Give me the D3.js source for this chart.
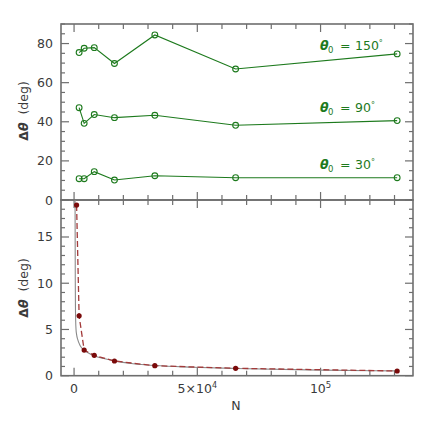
<!DOCTYPE html>
<html><head><meta charset="utf-8">
<script src="https://cdn.jsdelivr.net/npm/d3@7"></script>
<style>body{margin:0;background:#fff}svg{display:block}text{font-family:"DejaVu Sans",sans-serif}</style>
</head><body><svg id="c" width="436" height="436"></svg>
<script>
const nUpper = [2048, 4096, 8192, 16384, 32768, 65536, 131072];
const theta150 = [75.4, 77.6, 77.9, 69.8, 84.4, 67.0, 74.7];
const theta90  = [47.2, 39.2, 43.7, 42.1, 43.3, 38.2, 40.6];
const theta30  = [10.9, 10.9, 14.5, 10.2, 12.4, 11.4, 11.4];
const upperSeries = [
  {label: "150°", values: theta150},
  {label: "90°", values: theta90},
  {label: "30°", values: theta30}
];
const nLower = [1024, 2048, 4096, 8192, 16384, 32768, 65536, 131072];
const dLower = [18.45, 6.47, 2.77, 2.20, 1.59, 1.08, 0.80, 0.51];
const fitN = [400, 450, 500, 560, 650, 800, 1000, 1500, 2500, 4096, 6000, 8192, 12000, 16384, 24000, 32768, 48000, 65536, 100000, 131072];
const fitD = [19.5, 14, 10, 7.5, 6.0, 5.0, 4.5, 3.9, 3.25, 2.75, 2.42, 2.15, 1.85, 1.6, 1.3, 1.1, 0.92, 0.78, 0.6, 0.52];
const upperTicks = [0, 20, 40, 60, 80];
const lowerTicks = [0, 5, 10, 15];
const xTicks = [0, 50000, 100000];

const svg = d3.select("#c");
const L = 61, R = 413, T = 24, M = 200, B = 375.7;
const FS = 12.5;
const x = d3.scaleLinear().domain([-5300, 137500]).range([L, R]);
const yU = d3.scaleLinear().domain([0, 90]).range([M, T]);
const yL = d3.scaleLinear().domain([0, 19]).range([B, M]);
const frame = "#6e6e6e", txt = "#3a3a3a", green = "#1d7a1d", red = "#7a0a0a";

svg.append("defs").append("clipPath").attr("id", "clipL")
  .append("rect").attr("x", L).attr("y", M).attr("width", R - L).attr("height", B - M);

function ticksFor(scale, step) {
  const [a, b] = scale.domain();
  const out = [];
  for (let v = Math.ceil(a / step) * step; v <= b + 1e-9; v += step) out.push(v);
  return out;
}

function panel(y, top, bottom, majors, minorStep) {
  const g = svg.append("g");
  const minorY = ticksFor(y, minorStep);
  minorY.forEach(v => {
    const maj = majors.includes(v);
    const len = maj ? 8 : 4;
    g.append("line").attr("x1", L).attr("x2", L + len).attr("y1", y(v)).attr("y2", y(v)).attr("stroke", frame).attr("stroke-width", 1.2);
    g.append("line").attr("x1", R).attr("x2", R - len).attr("y1", y(v)).attr("y2", y(v)).attr("stroke", frame).attr("stroke-width", 1.2);
  });
  majors.forEach(v => {
    g.append("text").attr("x", 53).attr("y", y(v) + 4.5).attr("text-anchor", "end")
      .attr("font-size", FS).attr("fill", txt).text(v);
  });
  const minorX = ticksFor(x, 10000);
  minorX.forEach(v => {
    const maj = xTicks.includes(v);
    const len = maj ? 8 : 5;
    g.append("line").attr("x1", x(v)).attr("x2", x(v)).attr("y1", top).attr("y2", top + len).attr("stroke", frame).attr("stroke-width", 1.2);
    g.append("line").attr("x1", x(v)).attr("x2", x(v)).attr("y1", bottom).attr("y2", bottom - len).attr("stroke", frame).attr("stroke-width", 1.2);
  });
  g.append("rect").attr("x", L).attr("y", top).attr("width", R - L).attr("height", bottom - top)
    .attr("fill", "none").attr("stroke", frame).attr("stroke-width", 1.6);
}

panel(yU, T, M, upperTicks, 5);
panel(yL, M, B, lowerTicks, 1);

function yTitle(cy) {
  const t = svg.append("text").attr("transform", `translate(28,${cy}) rotate(-90)`)
    .attr("text-anchor", "middle").attr("font-size", FS).attr("fill", txt);
  t.append("tspan").attr("font-weight", "bold").text("Δ");
  t.append("tspan").attr("font-weight", "bold").attr("font-style", "italic").text("θ");
  t.append("tspan").attr("xml:space", "preserve").text("  (deg)");
}
yTitle(111);
yTitle(288);

const xl = svg.append("g").attr("font-size", FS).attr("fill", txt);
xl.append("text").attr("x", x(0)).attr("y", 393).attr("text-anchor", "middle").text("0");
const t5 = xl.append("text").attr("x", x(50000)).attr("y", 393).attr("text-anchor", "middle");
t5.append("tspan").text("5×10");
t5.append("tspan").attr("font-size", 8).attr("dy", -5).text("4");
const t10 = xl.append("text").attr("x", x(100000)).attr("y", 393).attr("text-anchor", "middle");
t10.append("tspan").text("10");
t10.append("tspan").attr("font-size", 8.5).attr("dy", -5).text("5");
xl.append("text").attr("x", 236).attr("y", 410).attr("text-anchor", "middle").text("N");

const lineU = d3.line().x(d => x(d[0])).y(d => yU(d[1]));
const labelY = [49.5, 111.5, 169];
upperSeries.forEach((s, i) => {
  const pts = nUpper.map((n, j) => [n, s.values[j]]);
  svg.append("path").attr("d", lineU(pts)).attr("fill", "none").attr("stroke", green).attr("stroke-width", 1.1);
  svg.append("g").selectAll("circle").data(pts).join("circle")
    .attr("cx", d => x(d[0])).attr("cy", d => yU(d[1])).attr("r", 2.9)
    .attr("fill", "none").attr("stroke", green).attr("stroke-width", 1.1);
  const t = svg.append("text").attr("y", labelY[i]).attr("font-size", FS).attr("fill", green);
  t.append("tspan").attr("x", 320).attr("font-weight", "bold").attr("font-style", "italic").text("θ");
  t.append("tspan").attr("x", 328).attr("dy", 3).attr("font-size", 8.5).text("0");
  t.append("tspan").attr("x", 340).attr("dy", -3).text("=");
  const num = s.label.replace("°", "");
  t.append("tspan").attr("x", 355).text(num);
  t.append("tspan").attr("font-size", 8).attr("dy", -4).text("°");
});

const lineL = d3.line().x(d => x(d[0])).y(d => yL(d[1]));
svg.append("path").attr("clip-path", "url(#clipL)")
  .attr("d", d3.line().curve(d3.curveMonotoneX).x(d => x(d[0])).y(d => yL(d[1]))(fitN.map((n, i) => [n, fitD[i]])))
  .attr("fill", "none").attr("stroke", "#8a8a8a").attr("stroke-width", 1.1);
svg.append("path").attr("d", lineL(nLower.map((n, i) => [n, dLower[i]])))
  .attr("fill", "none").attr("stroke", "#a33a3a").attr("stroke-width", 1.3).attr("stroke-dasharray", "6,3");
svg.append("g").selectAll("circle").data(nLower.map((n, i) => [n, dLower[i]])).join("circle")
  .attr("cx", d => x(d[0])).attr("cy", d => yL(d[1])).attr("r", 2.6).attr("fill", red);
</script></body></html>
